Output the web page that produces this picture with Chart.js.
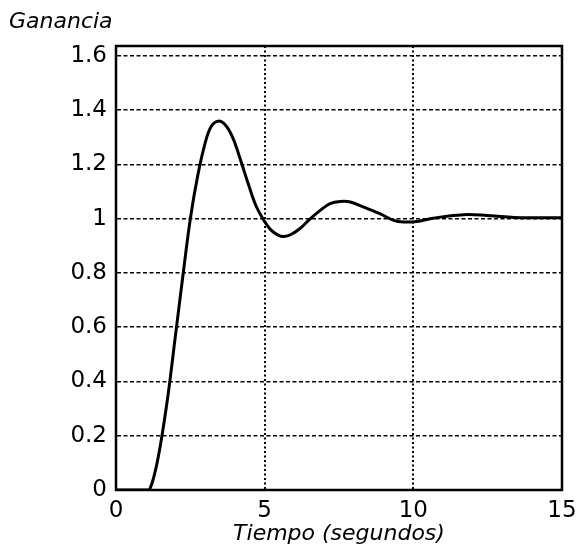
<!DOCTYPE html>
<html>
<head>
<meta charset="utf-8">
<script src="https://cdn.jsdelivr.net/npm/chart.js@4"></script>
<style>
html,body{margin:0;padding:0;background:#fff;}
#wrap{width:581px;height:558px;}
</style>
</head>
<body>
<div id="wrap"><canvas id="c" width="581" height="558"></canvas></div>
<script>
// Data
const time = [0, 1.0, 1.12, 1.3, 1.5, 1.75, 2.0, 2.25, 2.5, 2.75, 3.0, 3.2, 3.44, 3.7, 3.95, 4.2, 4.45, 4.7, 4.95, 5.2, 5.45, 5.65, 5.9, 6.2, 6.53, 6.87, 7.2, 7.54, 7.88, 8.33, 8.89, 9.34, 9.67, 10.12, 10.57, 11.13, 11.69, 12.26, 12.82, 13.38, 14.05, 15];
const gain = [0, 0, 0, 0.06, 0.17, 0.35, 0.57, 0.79, 1.0, 1.16, 1.28, 1.34, 1.36, 1.343, 1.293, 1.213, 1.128, 1.05, 0.998, 0.96, 0.94, 0.935, 0.943, 0.965, 1.0, 1.031, 1.056, 1.064, 1.062, 1.043, 1.018, 0.994, 0.988, 0.99, 1.0, 1.009, 1.015, 1.014, 1.009, 1.005, 1.004, 1.004];
const xTickValues = [0, 5, 10, 15];
const yTickValues = [0, 0.2, 0.4, 0.6, 0.8, 1, 1.2, 1.4, 1.6];
const yTickLabels = ['0', '0.2', '0.4', '0.6', '0.8', '1', '1.2', '1.4', '1.6'];
const xTitle = 'Tiempo (segundos)';
const yTitle = 'Ganancia';

const FONT = "'DejaVu Sans', 'Liberation Sans', Arial, sans-serif";

const framePlugin = {
  id: 'frame',
  afterDatasetsDraw(chart) {
    const {ctx, chartArea: a} = chart;
    ctx.save();
    ctx.strokeStyle = '#000';
    ctx.lineWidth = 2.5;
    ctx.strokeRect(a.left, a.top, a.right - a.left, a.bottom - a.top);
    ctx.restore();
  }
};

new Chart(document.getElementById('c'), {
  type: 'line',
  data: {
    datasets: [{
      data: time.map((t, i) => ({x: t, y: gain[i]})),
      borderColor: '#000',
      borderWidth: 3,
      pointRadius: 0,
      fill: false,
      tension: 0.35
    }]
  },
  options: {
    responsive: false,
    animation: false,
    devicePixelRatio: 1,
    layout: {padding: {left: 9, right: 19, top: 0, bottom: 0}},
    plugins: {
      legend: {display: false},
      tooltip: {enabled: false},
      title: {
        display: true,
        text: yTitle,
        align: 'start',
        color: '#000',
        font: {family: FONT, style: 'italic', size: 22, weight: 'normal'},
        padding: {top: 9, bottom: 10.6}
      }
    },
    scales: {
      x: {
        type: 'linear',
        min: 0,
        max: 15,
        afterBuildTicks(scale) { scale.ticks = xTickValues.map(v => ({value: v})); },
        afterFit(scale) { scale.height = 68; scale.paddingRight = 19; scale.paddingLeft = 0; },
        ticks: {
          color: '#000',
          padding: 7.5,
          maxRotation: 0,
          font: {family: FONT, size: 23},
          callback: (v) => String(v)
        },
        grid: {color: '#000', lineWidth: 2, drawTicks: false},
        border: {display: true, color: '#000', width: 2, dash: [2, 2.5]},
        title: {
          display: true,
          text: xTitle,
          color: '#000',
          font: {family: FONT, style: 'italic', size: 22},
          padding: {top: 0, bottom: 11}
        }
      },
      y: {
        type: 'linear',
        min: 0,
        max: 1.637,
        afterBuildTicks(scale) { scale.ticks = yTickValues.map(v => ({value: v})); },
        afterFit(scale) { scale.width = 107; },
        ticks: {
          color: '#000',
          padding: 9,
          font: {family: FONT, size: 23},
          callback: (v) => { const i = yTickValues.indexOf(v); return i >= 0 ? yTickLabels[i] : ''; }
        },
        grid: {color: '#000', lineWidth: 1.6, drawTicks: false},
        border: {display: true, color: '#000', width: 2, dash: [4, 2.5]}
      }
    }
  },
  plugins: [framePlugin]
});
</script>
</body>
</html>
